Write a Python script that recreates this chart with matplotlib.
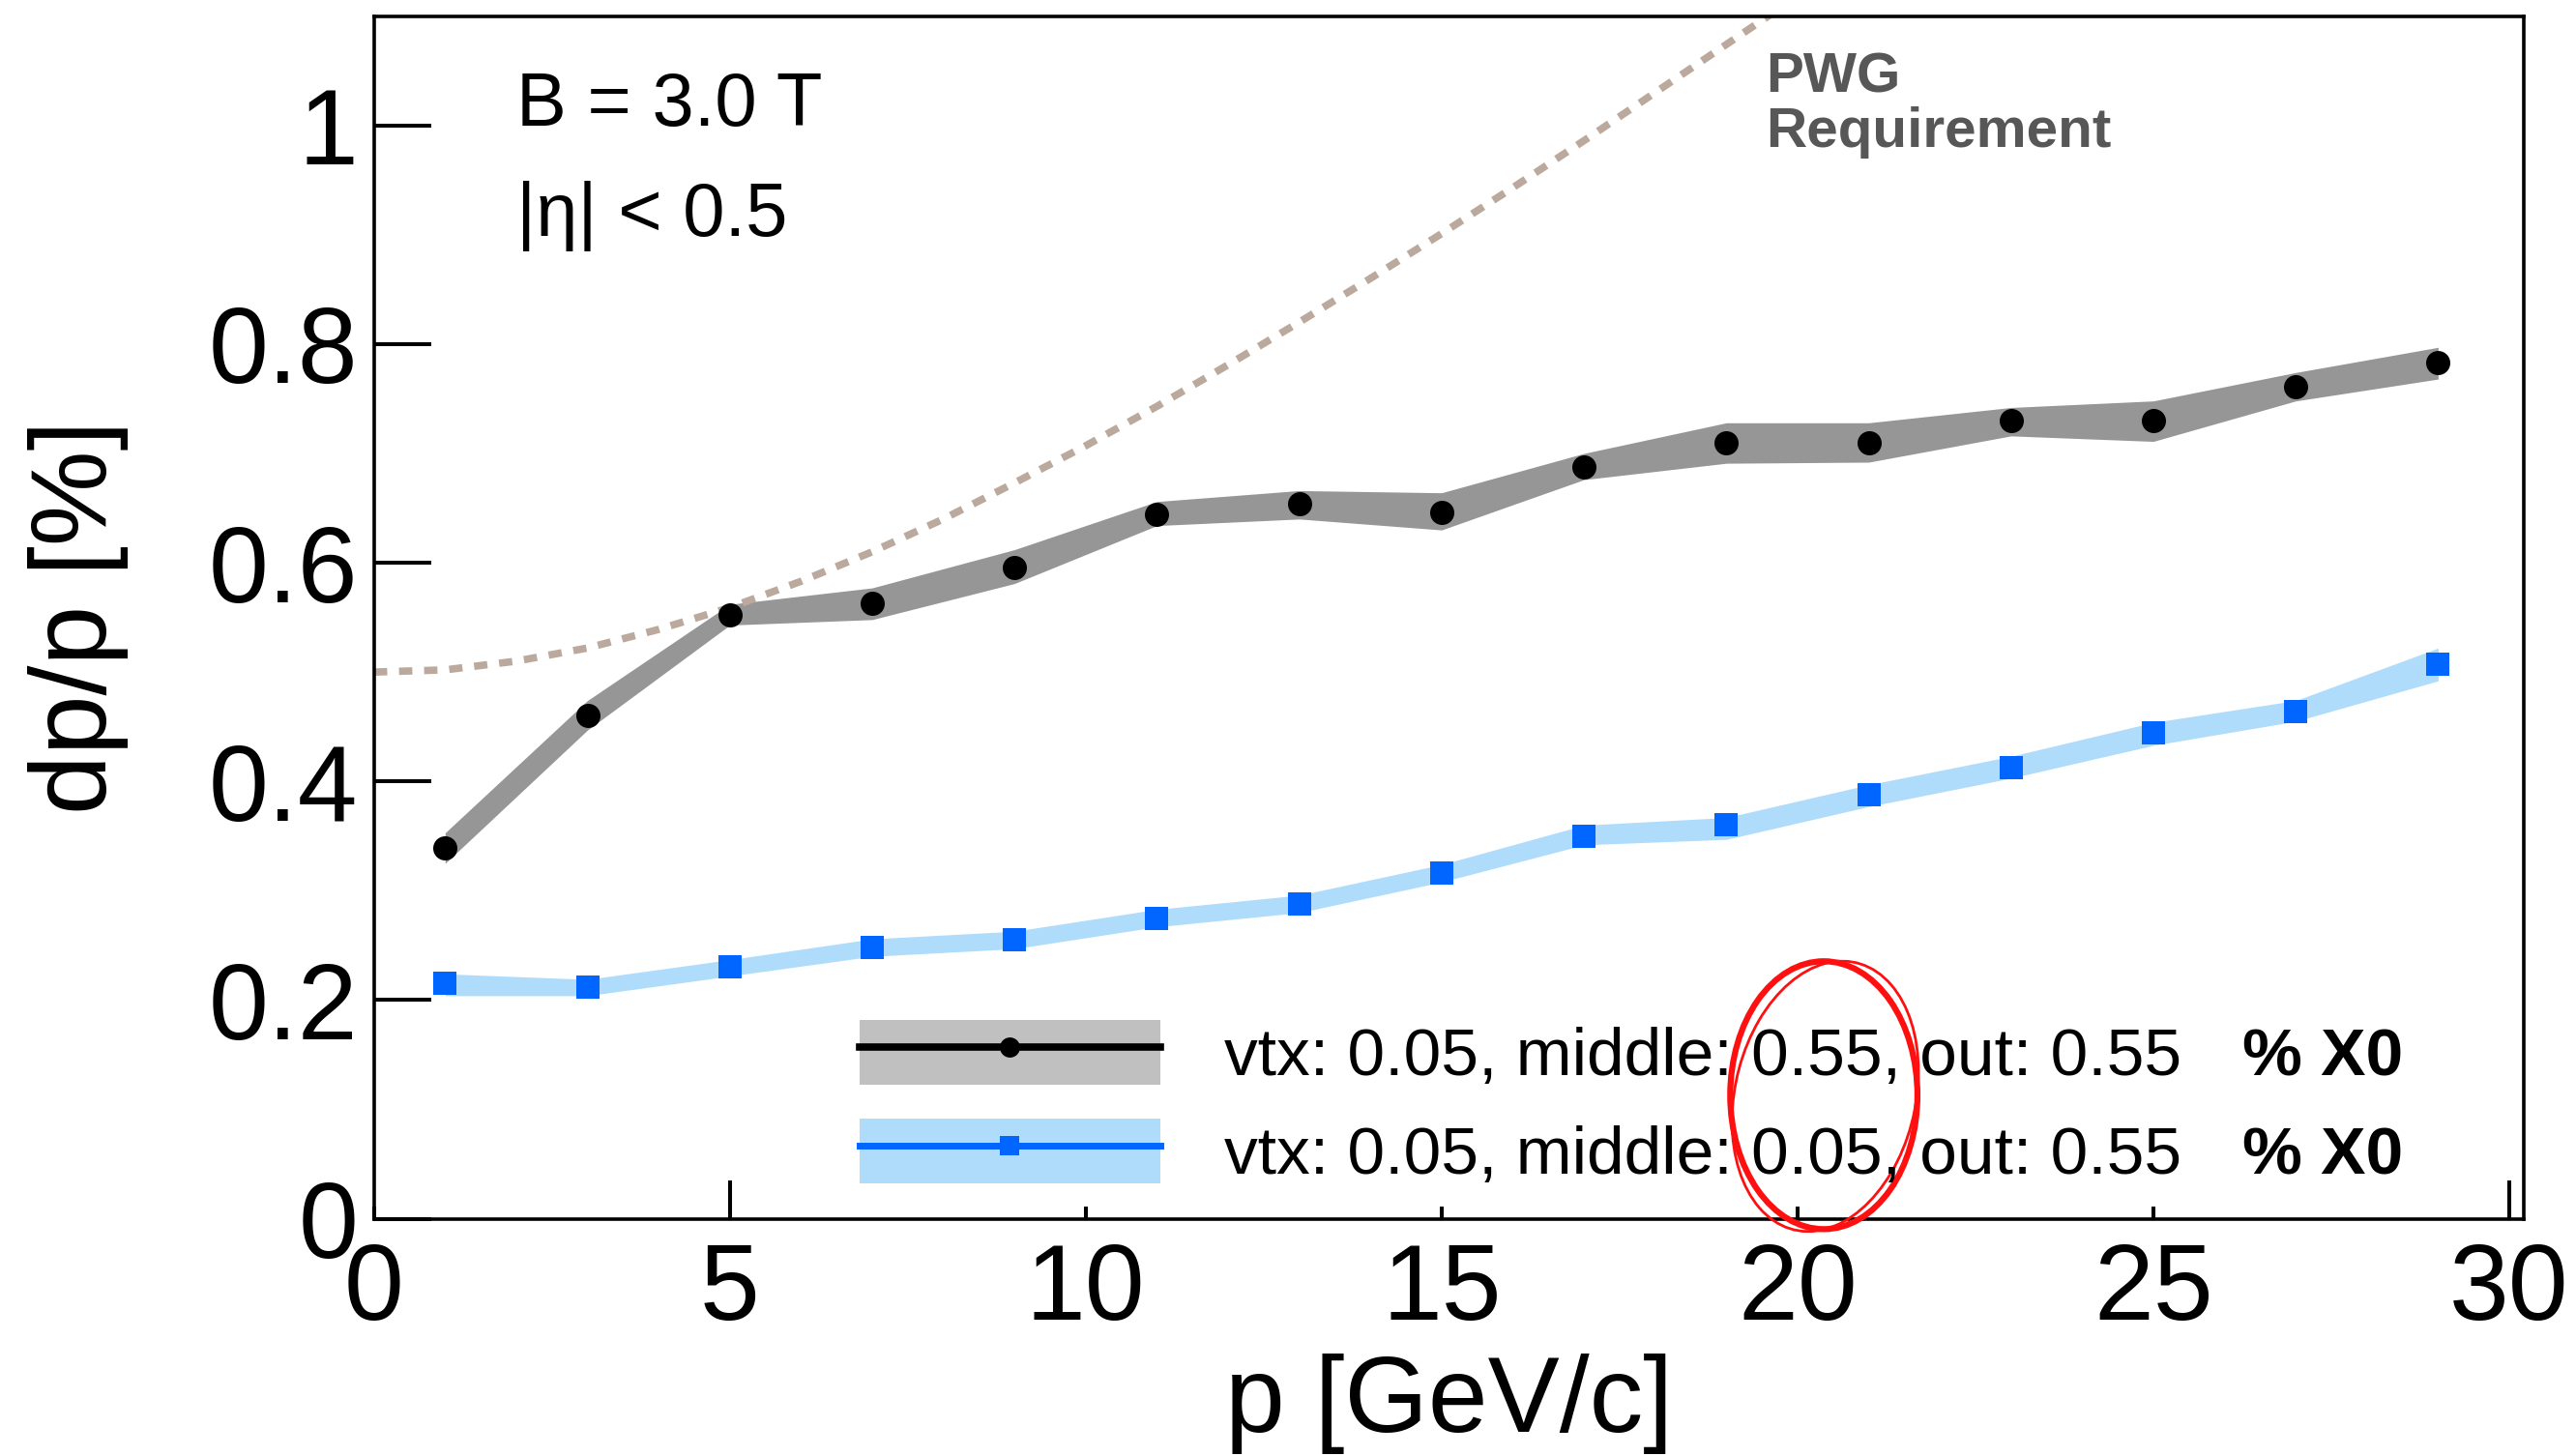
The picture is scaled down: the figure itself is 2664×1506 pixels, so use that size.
import matplotlib
matplotlib.use("Agg")
import matplotlib.pyplot as plt
from matplotlib.patches import Patch, Ellipse
from matplotlib.lines import Line2D
from matplotlib.legend_handler import HandlerTuple

plt.rcParams['font.family'] = ['Liberation Sans', 'DejaVu Sans']

# momentum points
p = [1, 3, 5, 7, 9, 11, 13, 15, 17, 19, 21, 23, 25, 27, 29]

# middle layer 0.55 % X0
black = [0.339, 0.460, 0.552, 0.563, 0.596, 0.644, 0.654, 0.646, 0.688, 0.710, 0.710, 0.730, 0.730, 0.761, 0.783]
black_hi = [0.353, 0.474, 0.562, 0.577, 0.612, 0.656, 0.666, 0.664, 0.700, 0.728, 0.728, 0.742, 0.748, 0.774, 0.797]
black_lo = [0.325, 0.447, 0.543, 0.548, 0.581, 0.634, 0.640, 0.630, 0.676, 0.691, 0.692, 0.716, 0.711, 0.748, 0.768]

# middle layer 0.05 % X0
blue = [0.215, 0.212, 0.230, 0.248, 0.255, 0.275, 0.288, 0.316, 0.350, 0.360, 0.388, 0.413, 0.444, 0.464, 0.507]
blue_hi = [0.224, 0.219, 0.237, 0.256, 0.263, 0.283, 0.296, 0.324, 0.360, 0.367, 0.397, 0.423, 0.454, 0.474, 0.522]
blue_lo = [0.204, 0.204, 0.222, 0.240, 0.247, 0.267, 0.280, 0.308, 0.342, 0.347, 0.377, 0.403, 0.433, 0.455, 0.492]

# PWG requirement curve
req_p = [0, 1, 2, 3, 4, 5, 6, 7, 8, 9, 10, 11, 12, 13, 14, 15, 16, 17, 18, 19, 20]
req = [0.500, 0.502, 0.510, 0.522, 0.539, 0.559, 0.583, 0.610, 0.640, 0.673, 0.707,
       0.743, 0.781, 0.820, 0.860, 0.901, 0.943, 0.986, 1.030, 1.074, 1.118]

labels = ["vtx: 0.05, middle: 0.55, out: 0.55", "vtx: 0.05, middle: 0.05, out: 0.55"]
xticks = [0, 5, 10, 15, 20, 25, 30]
yticks = [0, 0.2, 0.4, 0.6, 0.8, 1.0]
ytick_labels = ["0", "0.2", "0.4", "0.6", "0.8", "1"]

fig = plt.figure(figsize=(26.64, 15.06), dpi=100)
ax = fig.add_axes([0.14516, 0.16295, 0.83446, 0.82603])

ax.fill_between(p, black_lo, black_hi, color='#969696', lw=0, zorder=2)
ax.fill_between(p, blue_lo, blue_hi, color='#b0dcfc', lw=0, zorder=2)
ax.plot(req_p, req, color='#bba99d', lw=5.5, dashes=(1.8, 1.6), dash_capstyle='butt', zorder=2.5)
ax.plot(p, black, 'o', color='black', ms=18, mew=0, zorder=3)
ax.plot(p, blue, 's', color='#0066ff', ms=17, mew=0, zorder=3)

ax.set_xlim(0, 30.2)
ax.set_ylim(0, 1.1)
ax.set_xticks(xticks)
ax.set_xticklabels([str(t) for t in xticks])
ax.set_yticks(yticks)
ax.set_yticklabels(ytick_labels)
ax.tick_params(axis='y', direction='in', length=42.5, width=2.9, labelsize=80, pad=12)
ax.tick_params(axis='x', direction='in', length=9.4, width=2.9, labelsize=80, pad=17)
xt = ax.xaxis.get_major_ticks()
xt[1].tick1line.set_markersize(28.8)
xt[6].tick1line.set_markersize(28.8)
for s in ax.spines.values():
    s.set_linewidth(2.6)

ax.set_xlabel("p [GeV/c]", fontsize=80)
ax.set_ylabel("dp/p [%]", fontsize=80)
ax.xaxis.set_label_coords(0.5, -0.112)
ax.yaxis.set_label_coords(-0.114, 0.5)

ax.text(2.0, 1.0, "B = 3.0 T", fontsize=56, ha='left', va='baseline')
ax.text(2.0, 0.899, "|η| < 0.5", fontsize=56, ha='left', va='baseline')
ax.text(19.55, 1.030, "PWG", fontsize=42, fontweight='bold', color='#575757', ha='left', va='baseline')
ax.text(19.55, 0.980, "Requirement", fontsize=42, fontweight='bold', color='#575757', ha='left', va='baseline')

h1 = (Patch(facecolor='#c0c0c0', edgecolor='none'),
      Line2D([], [], color='black', lw=5.5, marker='o', ms=15, mew=0))
h2 = (Patch(facecolor='#b0dcfc', edgecolor='none'),
      Line2D([], [], color='#0066ff', lw=5, marker='s', ms=15, mew=0))
leg = ax.legend([h1, h2], labels, handler_map={tuple: HandlerTuple(ndivide=1, pad=0)},
                loc='upper left', bbox_to_anchor=(6.82, 0.182), bbox_transform=ax.transData,
                frameon=False, fontsize=50, handlelength=4.48, handleheight=1.12,
                handletextpad=0.95, labelspacing=0.44, borderpad=0, borderaxespad=0,
                numpoints=1)

# bold "% X0" next to each legend entry
fig.canvas.draw()
for t in leg.get_texts():
    bb = t.get_window_extent()
    yc = ax.transData.inverted().transform((0, (bb.y0 + bb.y1) / 2))[1]
    ax.text(26.25, yc, "% X0", fontsize=50, fontweight='bold', ha='left', va='center')

# red hand-drawn circle around the middle-layer values
ax.add_patch(Ellipse((20.37, 0.113), 2.63, 0.245, fill=False, ec='#ff1010', lw=4.5,
                     clip_on=False, zorder=5))
ax.add_patch(Ellipse((20.39, 0.112), 2.62, 0.243, angle=1.0, fill=False, ec='#ff1010',
                     lw=2, clip_on=False, zorder=5))

fig.savefig("out.png", dpi=100)
